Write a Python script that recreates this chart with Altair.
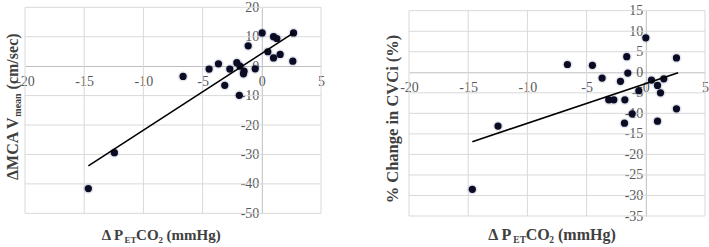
import altair as alt
import pandas as pd

# ---------------- data ----------------
# Left panel: change in PETCO2 (mmHg) vs change in MCA Vmean (cm/sec)
dpet_left = [-14.65, -12.45, -6.65, -4.45, -3.66, -3.13, -2.70, -2.11, -1.84, -1.90,
             -1.50, -1.55, -1.15, -0.56, 0.03, 0.51, 0.99, 1.27, 0.99, 1.55, 2.68, 2.62]
dmca = [-41.6, -29.4, -3.5, -1.0, 0.8, -6.5, -1.0, 1.2, 0.0, -9.9,
        -1.7, -2.6, 6.9, -0.9, 11.3, 4.9, 10.0, 9.4, 2.8, 4.0, 11.3, 1.7]
trend_left_x = [-14.65, 2.68]
trend_left_y = [-33.9, 11.3]

# Right panel: change in PETCO2 (mmHg) vs % change in CVCi
dpet_right = [-14.65, -12.48, -6.62, -4.51, -3.69, -3.13, -2.70, -2.14, -1.77, -1.80, -1.61,
              -1.52, -1.15, -0.59, 0.00, 0.48, 0.99, 0.99, 1.24, 1.52, 2.59, 2.59]
cvci = [-28.5, -13.1, 1.9, 1.7, -1.4, -6.7, -6.7, -2.2, -6.7, -12.4, 3.8,
        -0.2, -10.1, -4.5, 8.4, -1.9, -3.2, -11.9, -5.0, -1.6, 3.5, -8.9]
trend_right_x = [-14.65, 2.73]
trend_right_y = [-16.9, -0.1]

x_ticks = [-20, -15, -10, -5, 0, 5]
y_ticks_left = [-50, -40, -30, -20, -10, 0, 10, 20]
y_ticks_right = [-35, -30, -25, -20, -15, -10, -5, 0, 5, 10, 15]

# ---------------- styling ----------------
W, H = 709, 247
FONT = "Liberation Serif"
GRID = "#d9d9d9"
AXIS_LINE = "#bfbfbf"
LABEL_COLOR = "#595959"
TITLE_COLOR = "#404040"
DOT = "#0b0b24"
GLOW = "#2c3d87"


def panel(xv, yv, tx, ty, yticks, xrange_px, yrange_px, x_zero_px, y_zero_px):
    xs = alt.Scale(domain=[x_ticks[0], x_ticks[-1]], range=xrange_px, nice=False, zero=False)
    ys = alt.Scale(domain=[yticks[0], yticks[-1]], range=yrange_px, nice=False, zero=False)
    common = dict(grid=False, ticks=False, domainColor=AXIS_LINE, domainWidth=1,
                  labelFont=FONT, labelFontSize=14, labelColor=LABEL_COLOR,
                  labelFlush=False, labelOverlap=False, labelExpr="datum.value + ''",
                  title=None)
    ax_x = alt.Axis(values=x_ticks, orient="bottom", offset=y_zero_px - H,
                    labelPadding=8, **common)
    ax_y = alt.Axis(values=yticks, orient="left", offset=-x_zero_px,
                    labelPadding=3, **common)

    gx = pd.DataFrame({"gx": [v for v in x_ticks if v != 0]})
    gy = pd.DataFrame({"gy": [v for v in yticks if v != 0]})
    vgrid = alt.Chart(gx).mark_rule(color=GRID, strokeWidth=1).encode(
        x=alt.X("gx:Q", scale=xs, axis=ax_x),
        y=alt.YDatum(datum=yticks[0], scale=ys, axis=ax_y),
        y2=alt.Y2Datum(datum=yticks[-1]),
    )
    hgrid = alt.Chart(gy).mark_rule(color=GRID, strokeWidth=1).encode(
        y=alt.Y("gy:Q", scale=ys, axis=ax_y),
        x=alt.XDatum(datum=x_ticks[0], scale=xs, axis=ax_x),
        x2=alt.X2Datum(datum=x_ticks[-1]),
    )
    pts = pd.DataFrame({"x": xv, "y": yv})
    glow = alt.Chart(pts).mark_circle(color=GLOW, opacity=0.13, size=105).encode(
        x=alt.X("x:Q", scale=xs, axis=ax_x), y=alt.Y("y:Q", scale=ys, axis=ax_y))
    dots = alt.Chart(pts).mark_circle(color=DOT, opacity=1, size=52).encode(
        x=alt.X("x:Q", scale=xs, axis=ax_x), y=alt.Y("y:Q", scale=ys, axis=ax_y))
    tr = pd.DataFrame({"x": tx, "y": ty})
    line = alt.Chart(tr).mark_line(color="black", strokeWidth=1.6).encode(
        x=alt.X("x:Q", scale=xs, axis=ax_x), y=alt.Y("y:Q", scale=ys, axis=ax_y))
    return alt.layer(vgrid, hgrid, glow, dots, line)


left = panel(dpet_left, dmca, trend_left_x, trend_left_y, y_ticks_left,
             [25, 321], [213.3, 7.3], 261.8, 66.0)
right = panel(dpet_right, cvci, trend_right_x, trend_right_y, y_ticks_right,
              [409, 705], [216, 10.7], 645.8, 72.3)


def txt(s, x, y, size, angle=0, align="left", baseline="alphabetic"):
    return alt.Chart(pd.DataFrame({"t": [s]})).mark_text(
        font=FONT, fontWeight="bold", fontSize=size, color=TITLE_COLOR,
        align=align, baseline=baseline, angle=angle,
    ).encode(x=alt.value(x), y=alt.value(y), text="t:N")


titles = [
    # left x title: Δ P_ET CO_2 (mmHg)
    txt("Δ P", 101.7, 239.5, 15), txt("ET", 124.4, 242.5, 9), txt("CO", 136.1, 239.5, 15),
    txt("2", 158.4, 242.5, 9), txt("(mmHg)", 166.5, 239.5, 15),
    # right x title
    txt("Δ P", 488.3, 239.5, 16), txt("ET", 513.3, 242.5, 9.5), txt("CO", 525.7, 239.5, 16),
    txt("2", 549.3, 242.5, 9.5), txt("(mmHg)", 558.0, 239.5, 16),
    # left y title: ΔMCA V_mean (cm/sec)
    txt("ΔMCA V", 18, 180, 16, angle=270), txt("mean", 20.5, 116.7, 10, angle=270),
    txt("(cm/sec)", 18, 89.4, 16, angle=270),
    # right y title
    txt("% Change in CVCi (%)", 397.5, 119, 16.5, angle=270, align="center"),
]

chart = alt.layer(left, right, *titles).resolve_scale(
    x="independent", y="independent"
).properties(
    width=W, height=H, padding=0, autosize=alt.AutoSizeParams(type="none"),
    background="white",
).configure_view(stroke=None).configure_axis(labelFont=FONT)

chart.save("out.html", embed_options={"renderer": "svg", "actions": False})
